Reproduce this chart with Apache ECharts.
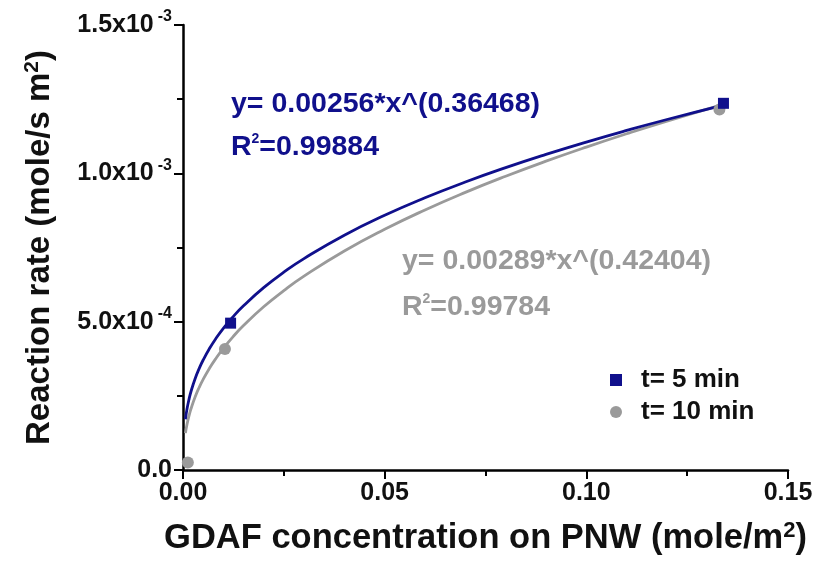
<!DOCTYPE html>
<html>
<head>
<meta charset="utf-8">
<script src="https://cdn.jsdelivr.net/npm/echarts@6/dist/echarts.min.js"></script>
<style>
  html, body { margin: 0; padding: 0; background: #ffffff; }
  #chart { width: 820px; height: 564px; }
</style>
</head>
<body>
<div id="chart"></div>
<script>
// Measured points
const t5X = [0.0118, 0.134];
const t5Y = [0.000495, 0.001236];
const t10X = [0.0012, 0.0104, 0.133];
const t10Y = [0.000025, 0.000408, 0.001215];

// Power-law fits y = a * x^b (coefficients as printed on the plot)
const fit5 = { a: 0.00256, b: 0.36468, r2: '0.99884' };
const fit10 = { a: 0.00289, b: 0.42404, r2: '0.99784' };

// x positions where the fitted curves are evaluated
const curveX = [0.0006, 0.001, 0.0015, 0.002, 0.003, 0.004, 0.005, 0.0065, 0.008, 0.01,
  0.0125, 0.015, 0.02, 0.025, 0.03, 0.04, 0.05, 0.06, 0.07, 0.08, 0.09, 0.1, 0.11, 0.12, 0.134];

const xTicks = [0, 0.05, 0.10, 0.15];
const yTicks = [0, 0.0005, 0.001, 0.0015];

const NAVY = '#10108c';
const GREY = '#9a9a9a';
const FONT = '"Liberation Sans", Arial, sans-serif';

const pairs = (xs, ys) => xs.map((x, i) => [x, ys[i]]);
const fitLine = f => curveX.map(x => [x, f.a * Math.pow(x, f.b)]);

function yLabel(v) {
  if (Math.abs(v) < 1e-12) return '{m|0.0}';
  const e = Math.floor(Math.log10(v) + 1e-9);
  const m = (v / Math.pow(10, e)).toFixed(1);
  return '{m|' + m + 'x10}{s|' + e + '}';
}

const nameStyle = (size) => ({
  fontFamily: FONT, fontWeight: 'bold', fontSize: size, color: '#111',
  rich: { sup: { fontFamily: FONT, fontWeight: 'bold', fontSize: Math.round(size * 0.63), color: '#111', padding: [0, 0, 14, 0] } }
});

const chart = echarts.init(document.getElementById('chart'), null, { renderer: 'canvas' });

chart.setOption({
  animation: false,
  backgroundColor: '#ffffff',
  grid: { left: 183, right: 32, top: 25, bottom: 94, containLabel: false },
  xAxis: {
    type: 'value',
    min: xTicks[0], max: xTicks[xTicks.length - 1], interval: 0.05,
    name: 'GDAF concentration on PNW (mole/m{sup|2})',
    nameLocation: 'middle', nameGap: 50,
    nameTextStyle: nameStyle(34.5),
    axisLine: { show: true, onZero: false, lineStyle: { color: '#000', width: 2.5 } },
    axisTick: { show: true, inside: false, length: 9, lineStyle: { color: '#000', width: 2 } },
    minorTick: { show: true, splitNumber: 2, length: 6, lineStyle: { color: '#000', width: 2 } },
    splitLine: { show: false },
    axisLabel: {
      margin: 11, fontFamily: FONT, fontWeight: 'bold', fontSize: 25, color: '#111',
      formatter: v => v.toFixed(2)
    }
  },
  yAxis: {
    type: 'value',
    min: yTicks[0], max: yTicks[yTicks.length - 1], interval: 0.0005,
    name: 'Reaction rate (mole/s m{sup|2})',
    nameLocation: 'middle', nameGap: 126, nameRotate: 90,
    nameTextStyle: nameStyle(33),
    axisLine: { show: true, onZero: false, lineStyle: { color: '#000', width: 2.5 } },
    axisTick: { show: true, inside: false, length: 9, lineStyle: { color: '#000', width: 2 } },
    minorTick: { show: true, splitNumber: 2, length: 6, lineStyle: { color: '#000', width: 2 } },
    splitLine: { show: false },
    axisLabel: {
      margin: 11, fontFamily: FONT, fontWeight: 'bold', fontSize: 25, color: '#111',
      formatter: yLabel,
      rich: {
        m: { fontFamily: FONT, fontWeight: 'bold', fontSize: 25, color: '#111' },
        s: { fontFamily: FONT, fontWeight: 'bold', fontSize: 16, color: '#111', padding: [0, 0, 16, 4] }
      }
    }
  },
  legend: {
    orient: 'vertical', left: 605, top: 362, itemGap: 6,
    itemWidth: 12, itemHeight: 12,
    data: ['t= 5 min', 't= 10 min'],
    textStyle: { fontFamily: FONT, fontWeight: 'bold', fontSize: 26, color: '#111', padding: [0, 0, 0, 14] }
  },
  graphic: [
    {
      type: 'text', left: 231, top: 90,
      style: { text: 'y= ' + fit5.a + '*x^(' + fit5.b + ')', fill: NAVY, font: 'bold 28.5px ' + FONT }
    },
    {
      type: 'text', left: 231, top: 132,
      style: {
        text: 'R{s|2}=' + fit5.r2, fill: NAVY, font: 'bold 28.5px ' + FONT,
        rich: { s: { fill: NAVY, font: 'bold 14px ' + FONT, padding: [0, 0, 16, 0] } }
      }
    },
    {
      type: 'text', left: 402, top: 247,
      style: { text: 'y= ' + fit10.a + '*x^(' + fit10.b + ')', fill: GREY, font: 'bold 28.5px ' + FONT }
    },
    {
      type: 'text', left: 402, top: 292,
      style: {
        text: 'R{s|2}=' + fit10.r2, fill: GREY, font: 'bold 28.5px ' + FONT,
        rich: { s: { fill: GREY, font: 'bold 14px ' + FONT, padding: [0, 0, 16, 0] } }
      }
    }
  ],
  series: [
    {
      name: 'fit10', type: 'line', data: fitLine(fit10), smooth: true, showSymbol: false,
      lineStyle: { color: GREY, width: 2.8 }, z: 2, silent: true
    },
    {
      name: 'fit5', type: 'line', data: fitLine(fit5), smooth: true, showSymbol: false,
      lineStyle: { color: NAVY, width: 2.8 }, z: 3, silent: true
    },
    {
      name: 't= 10 min', type: 'scatter', data: pairs(t10X, t10Y),
      symbol: 'circle', symbolSize: 12, itemStyle: { color: GREY, opacity: 1 }, z: 4
    },
    {
      name: 't= 5 min', type: 'scatter', data: pairs(t5X, t5Y),
      symbol: 'rect', symbolSize: 11, itemStyle: { color: NAVY, opacity: 1 }, z: 5
    }
  ]
});
</script>
</body>
</html>
